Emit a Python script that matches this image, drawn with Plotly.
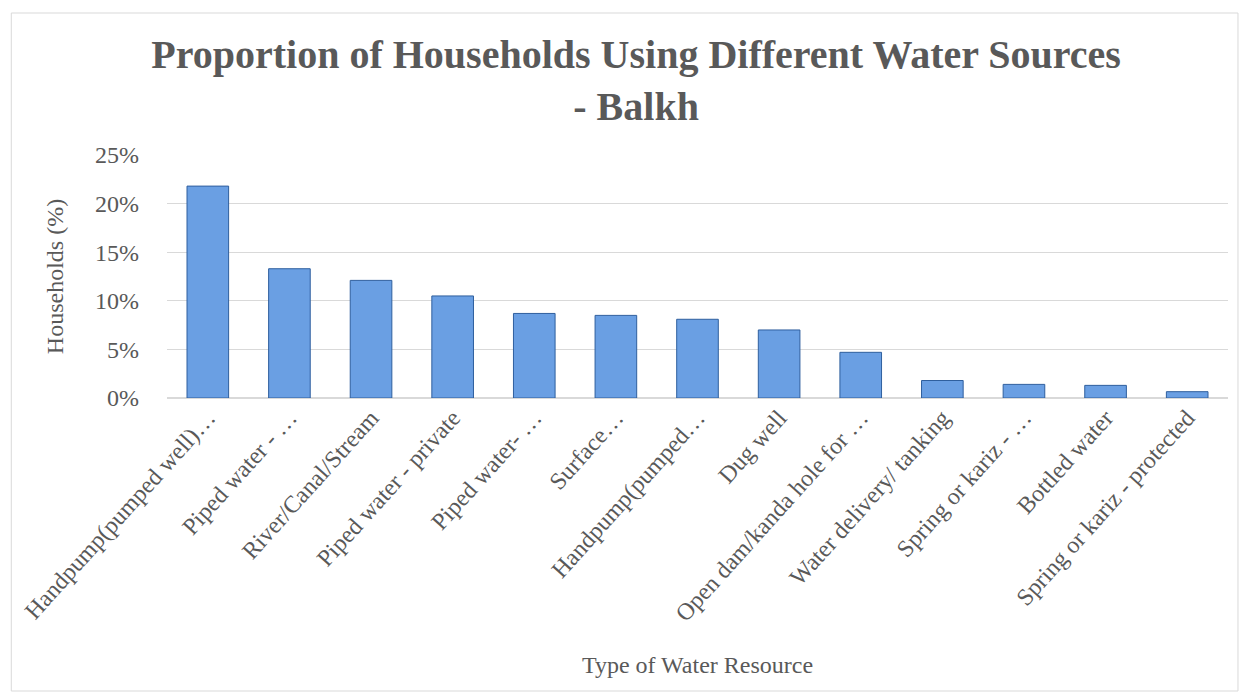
import plotly.graph_objects as go

categories = [
    "Handpump(pumped well)…",
    "Piped water - …",
    "River/Canal/Stream",
    "Piped water - private",
    "Piped water- …",
    "Surface…",
    "Handpump(pumped…",
    "Dug well",
    "Open dam/kanda hole for …",
    "Water delivery/ tanking",
    "Spring or kariz - …",
    "Bottled water",
    "Spring or kariz - protected",
]
values = [21.8, 13.3, 12.1, 10.5, 8.7, 8.5, 8.1, 7.0, 4.7, 1.8, 1.4, 1.3, 0.65]
y_ticks = [0, 5, 10, 15, 20, 25]
y_ticklabels = ["0%", "5%", "10%", "15%", "20%", "25%"]

FONT = "Liberation Serif"
GRAY = "#595959"

W, H = 1232, 684
L, R, T, B = 157, 12, 147, 294
PW, PH = W - L - R, H - T - B

fig = go.Figure()
fig.add_trace(go.Bar(
    x=categories, y=values,
    marker=dict(color="#6a9fe3", line=dict(color="#2f5f9e", width=1)),
    width=0.51,
    hoverinfo="x+y",
))

fig.update_layout(
    width=W, height=H,
    paper_bgcolor="white", plot_bgcolor="white",
    margin=dict(l=L, r=R, t=T, b=B),
    showlegend=False,
    title=dict(
        text="<b>Proportion of Households Using Different Water Sources<br>- Balkh</b>",
        xref="paper", x=(627 - L) / PW, xanchor="center",
        yref="container", y=1 - 60 / H, yanchor="middle",
        font=dict(family=FONT, size=40, color=GRAY),
    ),
    font=dict(family=FONT, color=GRAY),
    shapes=[dict(type="rect", xref="paper", yref="paper",
                 x0=(1 - L) / PW, x1=(1230 - L) / PW,
                 y0=-(683 - (H - B)) / PH, y1=1 + (T - 5) / PH,
                 line=dict(color="#d9d9d9", width=1), fillcolor="rgba(0,0,0,0)", layer="below")],
)
fig.update_xaxes(
    tickangle=-48, tickfont=dict(size=24, family=FONT, color=GRAY),
    showline=False, showgrid=False,
    title=dict(text="Type of Water Resource", font=dict(size=24, family=FONT, color=GRAY), standoff=30),
)
fig.update_yaxes(
    range=[0, 25], tickvals=y_ticks, ticktext=y_ticklabels,
    tickfont=dict(size=24, family=FONT, color=GRAY),
    gridcolor="#d9d9d9", gridwidth=1, zeroline=True, zerolinecolor="#d9d9d9", zerolinewidth=1.5,
    ticks="", ticklabelstandoff=27,
    title=dict(text="Households (%)", font=dict(size=24, family=FONT, color=GRAY), standoff=24),
)

fig.write_html("out.html")
